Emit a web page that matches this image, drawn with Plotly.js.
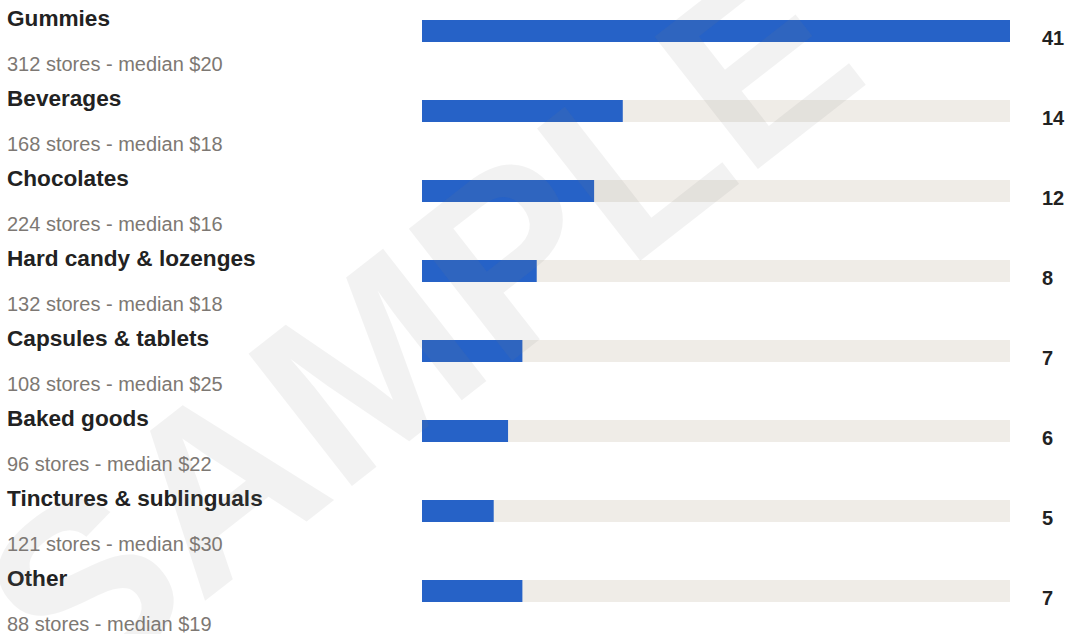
<!DOCTYPE html>
<html><head><meta charset="utf-8">
<script src="https://cdn.plot.ly/plotly-3.0.1.min.js"></script>
<style>html,body{margin:0;padding:0;background:#fff}#chart{width:1067px;height:634px}</style>
</head><body><div id="chart"></div>
<script>
const categories = ["Gummies","Beverages","Chocolates","Hard candy & lozenges","Capsules & tablets","Baked goods","Tinctures & sublinguals","Other"];
const counts = [41,14,12,8,7,6,5,7];
const stores = [312,168,224,132,108,96,121,88];
const medians = [20,18,16,18,25,22,30,19];
const maxCount = Math.max(...counts);

const W = 1067, H = 634;
const plotL = 422, plotR = 1010;
const pw = plotR - plotL;
const px2paper = p => (p - plotL) / pw;

const FONT = "Liberation Sans, Arial, sans-serif";

const track = {
  type: 'bar', orientation: 'h', y: categories, x: categories.map(() => maxCount),
  marker: {color: '#efece7'}, width: 0.275, hoverinfo: 'skip', showlegend: false
};
const bars = {
  type: 'bar', orientation: 'h', y: categories, x: counts,
  marker: {color: '#2662c7'}, width: 0.275, showlegend: false
};

const annotations = [];
categories.forEach((c, i) => {
  annotations.push({xref: 'paper', yref: 'y', x: px2paper(5), y: c, xanchor: 'left', yanchor: 'middle',
    yshift: 13, text: '<b>' + c + '</b>', showarrow: false, font: {family: FONT, size: 22.6, color: '#222222'}});
  annotations.push({xref: 'paper', yref: 'y', x: px2paper(5), y: c, xanchor: 'left', yanchor: 'middle',
    yshift: -33, text: stores[i] + ' stores - median $' + medians[i], showarrow: false,
    font: {family: FONT, size: 20, color: '#7d7873'}});
  annotations.push({xref: 'paper', yref: 'y', x: px2paper(1040), y: c, xanchor: 'left', yanchor: 'middle',
    yshift: -7, text: '<b>' + counts[i] + '</b>', showarrow: false, font: {family: FONT, size: 20, color: '#222222'}});
});
annotations.push({xref: 'paper', yref: 'paper', x: px2paper(420), y: 1 - 325 / H, xanchor: 'center', yanchor: 'middle',
  text: '<b>SAMPLE</b>', textangle: -38, showarrow: false,
  font: {family: FONT, size: 244, color: 'rgba(128,128,128,0.1)'}});

const layout = {
  width: W, height: H,
  margin: {l: plotL, r: W - plotR, t: 0, b: 0, pad: 0},
  paper_bgcolor: '#ffffff', plot_bgcolor: '#ffffff',
  barmode: 'overlay',
  xaxis: {range: [0, maxCount], visible: false, fixedrange: true},
  yaxis: {type: 'category', categoryorder: 'array', categoryarray: categories,
          range: [(H - 31) / 80, -31 / 80], visible: false, fixedrange: true},
  annotations: annotations,
  showlegend: false
};
Plotly.newPlot('chart', [track, bars], layout, {displayModeBar: false, staticPlot: true});
</script>
</body></html>
